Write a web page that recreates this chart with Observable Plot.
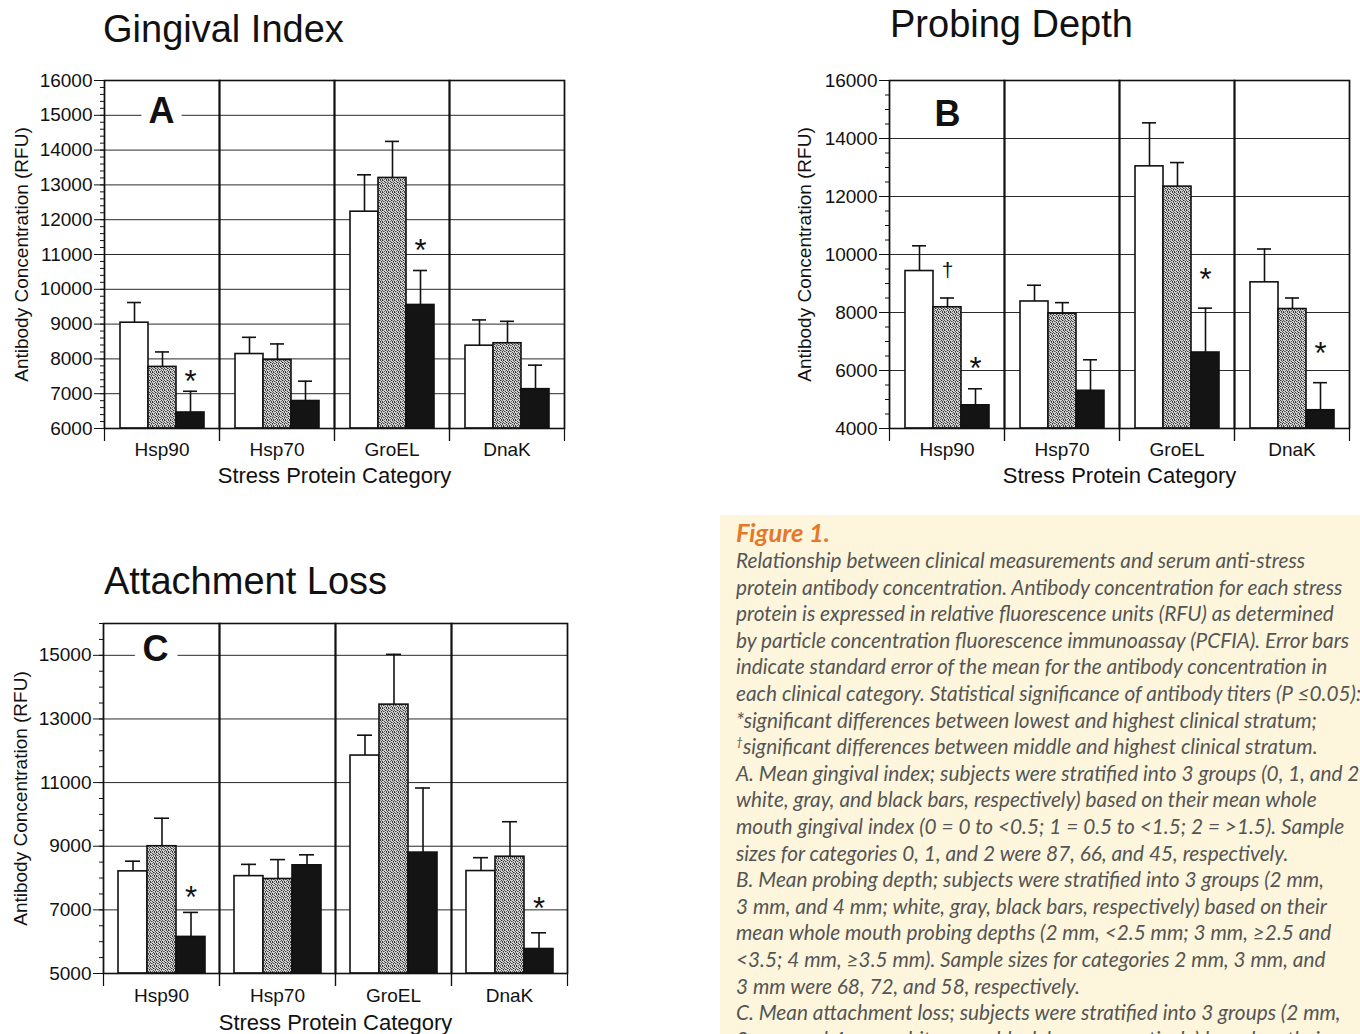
<!DOCTYPE html>
<html>
<head>
<meta charset="utf-8">
<script src="https://cdn.jsdelivr.net/npm/d3@7"></script>
<script src="https://cdn.jsdelivr.net/npm/@observablehq/plot@0.6"></script>
<style>
  html, body { margin: 0; padding: 0; background: #fff; }
  body { width: 1360px; height: 1034px; position: relative; overflow: hidden; font-family: "Liberation Sans", Arial, sans-serif; color: #111; }
  .title { position: absolute; font-size: 38px; line-height: 1; white-space: nowrap; color: #111; }
  .panel { position: absolute; }
  .panel svg { overflow: visible; }
  g[aria-label="fx-axis label"] text, g[aria-label="fx-axis label"] { font-size: 22px; }
  #caption { position: absolute; left: 720px; top: 515px; width: 640px; height: 519px; background: #fdf5dc; overflow: hidden; }
  #caption .fig { position: absolute; left: 16px; top: 2px; font-family: Lato, "Open Sans", sans-serif; font-style: italic; font-weight: bold; font-size: 25.5px; color: #e5782a; white-space: nowrap; }
  #caption .body { position: absolute; left: 16px; top: 32px; font-family: Lato, "Open Sans", sans-serif; font-style: italic; font-size: 20.8px; line-height: 26.6px; color: #555; white-space: nowrap; }
  #caption sup { font-size: 12px; vertical-align: 8px; line-height: 0; }
</style>
</head>
<body>
<svg width="0" height="0" style="position:absolute">
  <defs>
    <pattern id="stipple" patternUnits="userSpaceOnUse" width="6" height="6">
      <rect width="6" height="6" fill="#d2d2d2"></rect>
      <rect x="0" y="0" width="1" height="1" fill="#333"></rect>
      <rect x="4" y="0" width="1" height="1" fill="#444"></rect>
      <rect x="2" y="1" width="1" height="1" fill="#3a3a3a"></rect>
      <rect x="5" y="1" width="1" height="1" fill="#666"></rect>
      <rect x="0" y="2" width="1" height="1" fill="#555"></rect>
      <rect x="3" y="2" width="1" height="1" fill="#2e2e2e"></rect>
      <rect x="1" y="3" width="1" height="1" fill="#444"></rect>
      <rect x="5" y="3" width="1" height="1" fill="#333"></rect>
      <rect x="3" y="4" width="1" height="1" fill="#4a4a4a"></rect>
      <rect x="0" y="5" width="1" height="1" fill="#3c3c3c"></rect>
      <rect x="2" y="5" width="1" height="1" fill="#666"></rect>
      <rect x="4" y="5" width="1" height="1" fill="#383838"></rect>
      <rect x="1" y="0" width="1" height="1" fill="#8a8a8a"></rect>
      <rect x="4" y="2" width="1" height="1" fill="#888"></rect>
      <rect x="2" y="3" width="1" height="1" fill="#8c8c8c"></rect>
      <rect x="5" y="4" width="1" height="1" fill="#7a7a7a"></rect>
    </pattern>
  </defs>
</svg>

<div class="title" style="left:103px;top:10px;">Gingival Index</div>
<div class="title" style="left:890px;top:5px;">Probing Depth</div>
<div class="title" style="left:104px;top:562px;">Attachment Loss</div>

<div class="panel" id="panelA" style="left:0px;top:60px;"></div>
<div class="panel" id="panelB" style="left:780px;top:60px;"></div>
<div class="panel" id="panelC" style="left:0px;top:600px;"></div>

<div id="caption">
  <div class="fig">Figure 1.</div>
  <div class="body">
    Relationship between clinical measurements and serum anti-stress<br>
    protein antibody concentration. Antibody concentration for each stress<br>
    protein is expressed in relative fluorescence units (RFU) as determined<br>
    by particle concentration fluorescence immunoassay (PCFIA). Error bars<br>
    indicate standard error of the mean for the antibody concentration in<br>
    each clinical category. Statistical significance of antibody titers (P ≤0.05):<br>
    *significant differences between lowest and highest clinical stratum;<br>
    <sup>†</sup>significant differences between middle and highest clinical stratum.<br>
    A. Mean gingival index; subjects were stratified into 3 groups (0, 1, and 2;<br>
    white, gray, and black bars, respectively) based on their mean whole<br>
    mouth gingival index (0 = 0 to &lt;0.5; 1 = 0.5 to &lt;1.5; 2 = &gt;1.5). Sample<br>
    sizes for categories 0, 1, and 2 were 87, 66, and 45, respectively.<br>
    B. Mean probing depth; subjects were stratified into 3 groups (2 mm,<br>
    3 mm, and 4 mm; white, gray, black bars, respectively) based on their<br>
    mean whole mouth probing depths (2 mm, &lt;2.5 mm; 3 mm, ≥2.5 and<br>
    &lt;3.5; 4 mm, ≥3.5 mm). Sample sizes for categories 2 mm, 3 mm, and<br>
    3 mm were 68, 72, and 58, respectively.<br>
    C. Mean attachment loss; subjects were stratified into 3 groups (2 mm,<br>
    3 mm, and 4 mm; white, gray, black bars, respectively) based on their
  </div>
</div>

<script>
// ---------- shared categories ----------
const categories = ["Hsp90", "Hsp70", "GroEL", "DnaK"];
const groups = ["low", "middle", "high"];   // white, gray, black bars
const groupFills = ["white", "url(#stipple)", "#141414"];

// ---------- Panel A: Gingival Index ----------
const giLow      = [9040, 8140, 12230, 8380];
const giMid      = [7770, 7970, 13200, 8450];
const giHigh     = [6460, 6790, 9550, 7130];
const giLowErr   = [9620, 8620, 13290, 9120];
const giMidErr   = [8200, 8430, 14250, 9080];
const giHighErr  = [7070, 7360, 10540, 7820];
const giDomain   = [6000, 16000];
const giTicks    = [6000, 7000, 8000, 9000, 10000, 11000, 12000, 13000, 14000, 15000, 16000];
const giMinorStep = 200;
const giMarks    = [
  {cat: "Hsp90", grp: "high", y: 7440, s: "*"},
  {cat: "GroEL", grp: "high", y: 11220, s: "*"}
];

// ---------- Panel B: Probing Depth ----------
const pdLow      = [9430, 8380, 13040, 9040];
const pdMid      = [8180, 7960, 12340, 8120];
const pdHigh     = [4800, 5300, 6620, 4630];
const pdLowErr   = [10300, 8940, 14540, 10190];
const pdMidErr   = [8500, 8340, 13170, 8500];
const pdHighErr  = [5370, 6370, 8150, 5580];
const pdDomain   = [4000, 16000];
const pdTicks    = [4000, 6000, 8000, 10000, 12000, 14000, 16000];
const pdMinorStep = 500;
const pdMarks    = [
  {cat: "Hsp90", grp: "middle", y: 9450, s: "†"},
  {cat: "Hsp90", grp: "high", y: 6190, s: "*"},
  {cat: "GroEL", grp: "high", y: 9240, s: "*"},
  {cat: "DnaK",  grp: "high", y: 6700, s: "*"}
];

// ---------- Panel C: Attachment Loss ----------
const alLow      = [8210, 8060, 11850, 8220];
const alMid      = [9000, 7970, 13450, 8670];
const alHigh     = [6150, 8400, 8800, 5770];
const alLowErr   = [8530, 8430, 12490, 8640];
const alMidErr   = [9880, 8580, 15030, 9770];
const alHighErr  = [6920, 8730, 10830, 6280];
const alDomain   = [5000, 16000];
const alTicks    = [5000, 7000, 9000, 11000, 13000, 15000];
const alMinorStep = 500;
const alMarks    = [
  {cat: "Hsp90", grp: "high", y: 7500, s: "*"},
  {cat: "DnaK",  grp: "high", y: 7140, s: "*"}
];

function rows(low, mid, high, lowE, midE, highE) {
  const series = [[low, lowE], [mid, midE], [high, highE]];
  return categories.flatMap((c, i) =>
    groups.map((g, j) => ({cat: c, grp: g, value: series[j][0][i], err: series[j][1][i]}))
  );
}

function panel(cfg) {
  const data = rows(...cfg.series);
  const minor = d3.range(cfg.domain[0], cfg.domain[1] + 1, cfg.minorStep);
  const ink = "#111";
  return Plot.plot({
    width: cfg.width,
    height: cfg.height,
    marginLeft: cfg.ml,
    marginRight: cfg.mr,
    marginTop: cfg.mt,
    marginBottom: cfg.mb,
    style: {fontFamily: "'Liberation Sans', Arial, sans-serif", color: ink, background: "transparent", overflow: "visible"},
    fx: {domain: categories, padding: 0, label: null},
    x: {domain: groups, paddingInner: 0, paddingOuter: 0.5, axis: null},
    y: {domain: cfg.domain, axis: null},
    color: {domain: groups, range: groupFills},
    marks: [
      Plot.gridY(cfg.ticks, {stroke: "#2a2a2a", strokeOpacity: 1, strokeWidth: 1}),
      Plot.barY(data, {fx: "cat", x: "grp", y1: cfg.domain[0], y2: "value", fill: "grp", stroke: ink, strokeWidth: 1.6, inset: 0}),
      Plot.ruleX(data, {fx: "cat", x: "grp", y1: "value", y2: "err", stroke: ink, strokeWidth: 1.6}),
      Plot.tickY(data, {fx: "cat", x: "grp", y: "err", stroke: ink, strokeWidth: 1.6, insetLeft: 7, insetRight: 7}),
      Plot.frame({stroke: ink, strokeWidth: 1.6}),
      Plot.frame({anchor: "left", stroke: ink, strokeWidth: 1.2, insetBottom: -12}),
      Plot.frame({anchor: "right", stroke: ink, strokeWidth: 1.2, insetBottom: -12}),
      Plot.text(cfg.marks.filter(d => d.s === "*"), {fx: "cat", x: "grp", y: "y", text: "s", fontSize: 31, fill: ink, lineAnchor: "middle", dy: 4}),
      Plot.text(cfg.marks.filter(d => d.s !== "*"), {fx: "cat", x: "grp", y: "y", text: "s", fontSize: 21, fill: ink, lineAnchor: "middle"}),
      Plot.text([{cat: "Hsp90", t: cfg.letter}], {fx: "cat", text: "t", frameAnchor: "top-left", dx: cfg.ldx, dy: cfg.ldy,
        fontSize: 36, fontWeight: "bold", fill: ink, stroke: "white", strokeWidth: cfg.halo, textAnchor: "middle", lineAnchor: "middle"}),
      Plot.axisY(cfg.ticks, {tickSize: 10, tickPadding: 2, fontSize: 19, tickFormat: d3.format("d"),
        label: "Antibody Concentration (RFU)", labelAnchor: "center", labelOffset: cfg.lo, labelArrow: "none"}),
      Plot.axisY(minor, {tickSize: 4, tickFormat: () => "", label: null}),
      Plot.axisFx({anchor: "bottom", tickSize: 0, tickPadding: cfg.tp, fontSize: 19,
        label: "Stress Protein Category", labelAnchor: "center", labelOffset: cfg.xlo, labelArrow: "none"})
    ]
  });
}

document.getElementById("panelA").append(panel({
  series: [giLow, giMid, giHigh, giLowErr, giMidErr, giHighErr],
  domain: giDomain, ticks: giTicks, minorStep: giMinorStep, marks: giMarks,
  width: 580, height: 440, ml: 102, mr: 15, mt: 20, mb: 72,
  letter: "A", ldx: 57, ldy: 31, halo: 20, lo: 90, tp: 14, xlo: 54
}));

document.getElementById("panelB").append(panel({
  series: [pdLow, pdMid, pdHigh, pdLowErr, pdMidErr, pdHighErr],
  domain: pdDomain, ticks: pdTicks, minorStep: pdMinorStep, marks: pdMarks,
  width: 580, height: 440, ml: 107, mr: 10, mt: 20, mb: 72,
  letter: "B", ldx: 58, ldy: 34, halo: 24, lo: 92, tp: 14, xlo: 54
}));

document.getElementById("panelC").append(panel({
  series: [alLow, alMid, alHigh, alLowErr, alMidErr, alHighErr],
  domain: alDomain, ticks: alTicks, minorStep: alMinorStep, marks: alMarks,
  width: 580, height: 434, ml: 103, mr: 13, mt: 23, mb: 61,
  letter: "C", ldx: 52, ldy: 26, halo: 20, lo: 90, tp: 15, xlo: 56
}));
</script>
</body>
</html>
